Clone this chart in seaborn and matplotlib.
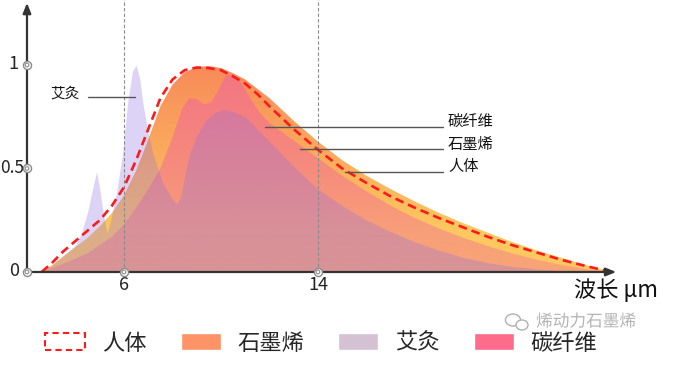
import numpy as np
import matplotlib
matplotlib.use('Agg')
import matplotlib.pyplot as plt
import seaborn as sns
from matplotlib.patches import Patch, PathPatch, Ellipse
import matplotlib.patheffects as pe

# ---- data (wavelength in um, relative intensity) ----
human_x = [2.6, 3.0, 3.5, 4.0, 4.5, 5.0, 5.5, 6.0, 6.5, 7.0, 7.5, 8.0, 8.5, 9.0, 9.5,
           10.0, 10.5, 11.0, 11.5, 12.0, 13.0, 14.0, 15.0, 16.0, 17.0, 18.0, 19.0, 20.0,
           21.0, 22.0, 23.0, 24.0, 25.0, 26.1]
human_y = [0.00, 0.04, 0.10, 0.15, 0.20, 0.25, 0.32, 0.41, 0.54, 0.69, 0.84, 0.93, 0.975, 0.988, 0.985,
           0.975, 0.945, 0.91, 0.86, 0.80, 0.69, 0.59, 0.50, 0.43, 0.365, 0.31, 0.26, 0.215,
           0.17, 0.13, 0.095, 0.06, 0.03, 0.0]

graphene_x = human_x
graphene_y = [0.00, 0.03, 0.075, 0.12, 0.165, 0.22, 0.285, 0.37, 0.49, 0.64, 0.80, 0.905, 0.965, 0.99, 0.995,
              0.985, 0.96, 0.93, 0.885, 0.84, 0.73, 0.63, 0.54, 0.465, 0.40, 0.34, 0.285, 0.235,
              0.19, 0.145, 0.105, 0.07, 0.035, 0.0]

carbon_x = [2.6, 3.5, 4.5, 5.5, 6.0, 6.5, 7.0, 7.5, 8.0, 8.4, 8.7, 9.0, 9.3, 9.6, 9.9, 10.2, 10.5,
            10.8, 11.2, 11.6, 12.0, 13.0, 14.0, 15.0, 16.0, 17.0, 18.0, 19.0, 20.0, 21.0, 22.0,
            23.0, 24.0, 25.0, 26.1]
carbon_y = [0.0, 0.04, 0.09, 0.17, 0.23, 0.31, 0.40, 0.50, 0.65, 0.79, 0.84, 0.835, 0.81, 0.82, 0.88,
            0.95, 0.955, 0.92, 0.84, 0.77, 0.72, 0.635, 0.55, 0.465, 0.39, 0.32, 0.26, 0.21, 0.165,
            0.125, 0.09, 0.06, 0.035, 0.015, 0.0]

moxa_x = [2.6, 3.0, 3.5, 4.0, 4.25, 4.5, 4.7, 4.87, 5.0, 5.15, 5.3, 5.45, 5.7, 5.95, 6.15, 6.35,
          6.5, 6.65, 6.8, 7.0, 7.2, 7.6, 8.0, 8.2, 8.35, 8.5, 8.7, 9.0, 9.4, 9.8, 10.1, 10.5,
          11.0, 11.5, 12.0, 13.0, 14.0, 15.0, 16.0, 17.0, 18.0, 19.0, 20.0, 21.0, 22.0, 23.0,
          24.0, 25.0, 26.1]
moxa_y = [0.0, 0.03, 0.08, 0.13, 0.19, 0.29, 0.40, 0.485, 0.40, 0.28, 0.19, 0.25, 0.39, 0.58, 0.82, 0.97,
          1.0, 0.93, 0.80, 0.67, 0.57, 0.43, 0.35, 0.33, 0.37, 0.46, 0.57, 0.66, 0.735, 0.775, 0.785, 0.775,
          0.75, 0.69, 0.63, 0.51, 0.40, 0.32, 0.25, 0.195, 0.145, 0.105, 0.07, 0.045, 0.027, 0.015,
          0.007, 0.002, 0.0]

y_ticks = [0, 0.5, 1]
y_tick_labels = ['0', '0.5', '1']
x_ticks = [6, 14]
x_tick_labels = ['6', '14']

labels = ['人体', '石墨烯', '艾灸', '碳纤维']
# callouts: label, line start x, line y, text y
callouts = [('碳纤维', 11.81, 0.702, 0.726),
            ('石墨烯', 13.26, 0.594, 0.617),
            ('人体', 15.11, 0.483, 0.509)]

sns.set_theme(style='white')
plt.rcParams['font.family'] = ['Noto Sans CJK SC', 'DejaVu Sans']

fig = plt.figure(figsize=(6.79, 3.67), dpi=100)
ax = fig.add_axes([0, 0, 1, 1])
ax.set_axis_off()


def gradient_fill(x, y, rgba, zorder):
    coll = ax.fill_between(x, y, 0, facecolor='none', edgecolor='none')
    clip = PathPatch(coll.get_paths()[0], transform=ax.transData,
                     facecolor='none', edgecolor='none')
    ax.add_patch(clip)
    im = ax.imshow(rgba, extent=[min(x), max(x), 0, 1.0], origin='lower',
                   aspect='auto', zorder=zorder, interpolation='bilinear')
    im.set_clip_path(clip)


# vertical colour ramps
t = np.linspace(0, 1, 200)
w = np.clip((t - 0.2) / 0.8, 0, 1)
top = np.array([248, 138, 90]) / 255
bot = np.array([253, 200, 96]) / 255
g_rgba = np.ones((200, 1, 4))
g_rgba[:, 0, :3] = bot + (top - bot) * w[:, None]
gradient_fill(graphene_x, graphene_y, g_rgba, 1)

p_rgba = np.ones((200, 1, 4))
p_rgba[:, 0, :3] = np.array([241, 105, 155]) / 255
p_rgba[:, 0, 3] = 0.38 + 0.26 * t
gradient_fill(carbon_x, carbon_y, p_rgba, 2)

ax.fill_between(moxa_x, moxa_y, 0, color=(145 / 255, 112 / 255, 228 / 255), alpha=0.3,
                lw=0, zorder=3)

# guide lines at 6 and 14
ax.vlines(x_ticks, 0, 1.32, colors='#8a8a8a', linestyles=(0, (3, 2)), lw=0.8, zorder=4)

# human body curve
sns.lineplot(x=human_x, y=human_y, ax=ax, color='#ff1a1a', lw=1.9, zorder=6,
             estimator=None, sort=False)
ax.lines[-1].set_dashes([3.3, 1.9])

# axes with arrows
arrow = dict(arrowstyle='-|>,head_length=0.5,head_width=0.2', color='#333333', lw=1.6,
             shrinkA=0, shrinkB=0)
ax.annotate('', xy=(2.0, 1.30), xytext=(2.0, 0), arrowprops=arrow, zorder=7)
ax.annotate('', xy=(26.3, 0), xytext=(2.0, 0), arrowprops=arrow, zorder=7)

# tick markers
tx = [2.0] * len(y_ticks) + x_ticks
ty = y_ticks + [0] * len(x_ticks)
ax.scatter(tx, ty, s=34, facecolor='white', edgecolor='#8a8a8a', lw=1, zorder=8)
ax.scatter(tx, ty, s=7, facecolor='none', edgecolor='#8a8a8a', lw=0.8, zorder=9)

for v, lab in zip(y_ticks, y_tick_labels):
    if lab == '0.5':
        ax.text(0.90, v, lab, ha='left', va='center', fontsize=12.5, color='#222222')
    else:
        ax.text(1.66, v + 0.005, lab, ha='right', va='center', fontsize=13, color='#222222')
for v, lab in zip(x_ticks, x_tick_labels):
    ax.text(v, -0.063, lab, ha='center', va='center', fontsize=13, color='#222222')
ax.text(26.29, -0.09, '波长 μm', ha='center', va='center', fontsize=16, color='#111111')

# callouts
ax.plot([4.52, 6.45], [0.845, 0.845], color='#555555', lw=1, zorder=7)
ax.text(4.19, 0.862, '艾灸', ha='right', va='center', fontsize=10.5, color='#111111')
for lab, x0, ly, ty_ in callouts:
    ax.plot([x0, 19.16], [ly, ly], color='#555555', lw=1, zorder=7)
    ax.text(19.36, ty_, lab, ha='left', va='center', fontsize=11, color='#111111')

# watermark
ax.add_patch(Ellipse((0.887 + 513 / 24.25, (272 - 320) / 207), 15 / 24.25, 12 / 207,
                     facecolor='white', edgecolor='#b0b0b0', lw=1, zorder=10))
ax.add_patch(Ellipse((0.887 + 522 / 24.25, (272 - 325) / 207), 12 / 24.25, 10 / 207,
                     facecolor='white', edgecolor='#b0b0b0', lw=1, zorder=11))
ax.text(25.05, -0.2415, '烯动力石墨烯', ha='center', va='center', fontsize=12,
        color='#b4b4b4', zorder=12,
        path_effects=[pe.withStroke(linewidth=2, foreground='white')])

# legend
handles = [Patch(facecolor='white', edgecolor='#ff1a1a', linestyle=(0, (3, 2)), lw=1.5),
           Patch(facecolor='#fd9366'),
           Patch(facecolor='#d4c2d4'),
           Patch(facecolor='#ff6b8b')]
ax.legend(handles, labels, loc='center left', bbox_to_anchor=(45 / 679, 24 / 367),
          bbox_transform=fig.transFigure, ncol=4, frameon=False, fontsize=16,
          handlelength=1.8, handleheight=0.8, handletextpad=0.75, columnspacing=1.55,
          borderpad=0, borderaxespad=0)

ax.set_xlim(0.887, 28.887)
ax.set_ylim(-0.459, 1.314)

fig.savefig('out.png', dpi=100, facecolor='white')
